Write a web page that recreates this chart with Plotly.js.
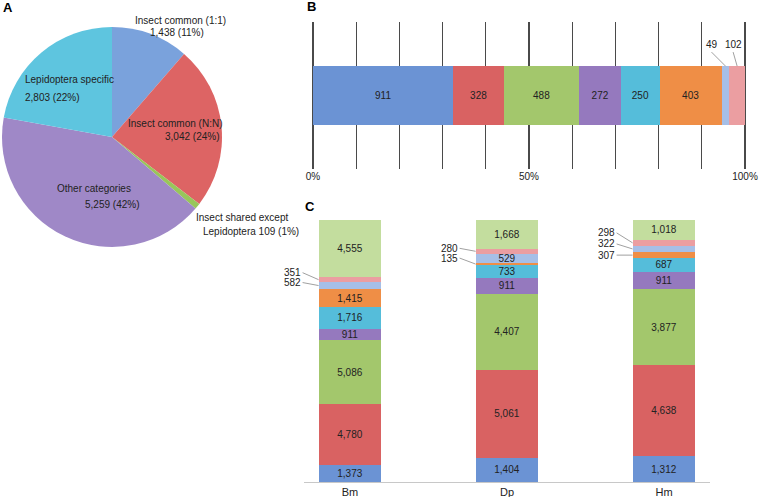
<!DOCTYPE html>
<html><head><meta charset="utf-8">
<script src="https://cdn.plot.ly/plotly-3.0.1.min.js"></script>
<style>html,body{margin:0;padding:0;background:#fff}#chart{width:760px;height:497px}</style>
</head><body><div id="chart"></div>
<script>
// ---- Data ----
const pieLabels = ['Insect common (1:1)', 'Insect common (N:N)', 'Insect shared except Lepidoptera', 'Other categories', 'Lepidoptera specific'];
const pieValues = [1438, 3042, 109, 5259, 2803];

const barBValues = [911, 328, 488, 272, 250, 403, 49, 102];
const barBTicks = ['0%', '50%', '100%'];

const species = ['Bm', 'Dp', 'Hm'];
const cBlue      = [1373, 1404, 1312];
const cRed       = [4780, 5061, 4638];
const cGreen     = [5086, 4407, 3877];
const cPurple    = [911, 911, 911];
const cCyan      = [1716, 733, 687];
const cOrange    = [1415, 135, 307];
const cLightBlue = [582, 529, 322];
const cPink      = [351, 280, 298];
const cLightGreen= [4555, 1668, 1018];

// ---- Styling ----
const FONT = 'Liberation Sans, Arial, Helvetica, sans-serif';
const segColors = ['#6b93d4', '#d96262', '#a3c76c', '#9579be', '#55bdda', '#ef8e46', '#a6bfe7', '#eb9ea1', '#c3dd9e'];
const pieColors = ['#7aa2dc', '#dd6464', '#98c65a', '#9f88c7', '#5ec5df'];
const px = x => x / 760;
const py = y => 1 - y / 497;
const fmt = v => v.toLocaleString('en-US');

const traces = [];
const annotations = [];

// ---- Panel A: pie ----
traces.push({
  type: 'pie', labels: pieLabels, values: pieValues, sort: false, direction: 'clockwise',
  rotation: 0, textinfo: 'none', hoverinfo: 'none', showlegend: false,
  marker: {colors: pieColors, line: {width: 0}},
  domain: {x: [px(2), px(222)], y: [py(247), py(27)]}
});
const pieTotal = pieValues.reduce((a, b) => a + b, 0);
const pct = v => Math.round(v / pieTotal * 100) + '%';
const valTxt = i => fmt(pieValues[i]) + ' (' + pct(pieValues[i]) + ')';
const pieAnn = [
  [pieLabels[0], 180, 21, 'center'], [valTxt(0), 177, 33, 'center'],
  [pieLabels[1], 175, 124, 'center'], [valTxt(1), 192, 137, 'center'],
  ['Insect shared except', 194, 217, 'left'], ['Lepidoptera ' + valTxt(2), 201, 231, 'left'],
  [pieLabels[3], 94, 189, 'center'], [valTxt(3), 112, 205, 'center'],
  [pieLabels[4], 23, 80, 'left'], [valTxt(4), 23, 98, 'left']
];
pieAnn.forEach(([t, x, y, anc]) => annotations.push({
  text: t, xref: 'paper', yref: 'paper', x: px(x), y: py(y), xanchor: anc, yanchor: 'middle',
  showarrow: false, font: {family: FONT, size: 10, color: '#222'}
}));

// ---- Panel B: horizontal 100% bar ----
const totalB = barBValues.reduce((a, b) => a + b, 0);
barBValues.forEach((v, i) => {
  const inside = v / totalB > 0.05;
  traces.push({
    type: 'bar', orientation: 'h', x: [v], y: [0], width: 0.4, xaxis: 'x', yaxis: 'y',
    marker: {color: segColors[i], line: {width: 0}},
    text: [inside ? fmt(v) : ''], textposition: inside ? 'inside' : 'none',
    insidetextanchor: 'middle', textangle: 0,
    textfont: {family: FONT, size: 10, color: '#222'},
    hoverinfo: 'none', showlegend: false
  });
});
let cum = 0;
const bOffsets = {6: [-14, -14], 7: [-4, -14]};
barBValues.forEach((v, i) => {
  const mid = (cum + v / 2) / totalB * 100;
  cum += v;
  if (v / totalB <= 0.05) {
    const [ax, ay] = bOffsets[i];
    annotations.push({
      text: fmt(v), x: mid, y: 0.2, xref: 'x', yref: 'y', ax: ax, ay: ay,
      showarrow: true, arrowhead: 0, arrowwidth: 0.7, arrowcolor: '#777', standoff: 0,
      yanchor: 'bottom', font: {family: FONT, size: 10, color: '#222'}
    });
  }
});

// ---- Panel C: stacked 100% columns ----
const cSeries = [cBlue, cRed, cGreen, cPurple, cCyan, cOrange, cLightBlue, cPink, cLightGreen];
const cTotals = species.map((s, j) => cSeries.reduce((a, arr) => a + arr[j], 0));
const xIdx = species.map((s, j) => j);
cSeries.forEach((arr, i) => {
  traces.push({
    type: 'bar', x: xIdx, y: arr, width: 0.4, xaxis: 'x2', yaxis: 'y2',
    marker: {color: segColors[i], line: {width: 0}},
    text: arr.map((v, j) => v / cTotals[j] > 0.03 ? fmt(v) : ''),
    textposition: 'inside', insidetextanchor: 'middle', textangle: 0,
    textfont: {family: FONT, size: 10, color: '#222'},
    hoverinfo: 'none', showlegend: false
  });
});
const cOffsets = [[-7, -3], [-3, -6], [-10, -5, 0]];
species.forEach((s, j) => {
  let c = 0;
  const small = [];
  cSeries.forEach((arr, i) => {
    const mid = (c + arr[j] / 2) / cTotals[j] * 100;
    c += arr[j];
    if (arr[j] / cTotals[j] <= 0.03) small.push([arr[j], mid]);
  });
  small.reverse();
  small.forEach(([v, mid], k) => {
    annotations.push({
      text: fmt(v), x: j - 0.2, y: mid, xref: 'x2', yref: 'y2', ax: -16, ay: cOffsets[j][k],
      xanchor: 'right', showarrow: true, arrowhead: 0, arrowwidth: 0.7, arrowcolor: '#777', standoff: 0,
      font: {family: FONT, size: 10, color: '#222'}
    });
  });
});

// Panel letters
[['A', 8, 8], ['B', 311, 7], ['C', 310, 207]].forEach(([t, x, y]) => annotations.push({
  text: '<b>' + t + '</b>', xref: 'paper', yref: 'paper', x: px(x), y: py(y),
  xanchor: 'center', yanchor: 'middle', showarrow: false,
  font: {family: FONT, size: 13, color: '#000'}
}));

const layout = {
  width: 760, height: 497, margin: {l: 0, r: 0, t: 0, b: 0},
  paper_bgcolor: '#fff', plot_bgcolor: 'rgba(0,0,0,0)',
  barmode: 'stack', barnorm: 'percent', showlegend: false,
  font: {family: FONT, size: 10, color: '#222'},
  uniformtext: {mode: 'show', minsize: 10},
  xaxis: {
    domain: [px(310.84), px(747.16)], range: [-0.5, 100.5], anchor: 'y',
    tickvals: [0, 10, 20, 30, 40, 50, 60, 70, 80, 90, 100],
    ticktext: [barBTicks[0], '', '', '', '', barBTicks[1], '', '', '', '', barBTicks[2]],
    showgrid: true, gridcolor: '#4a4a4a', gridwidth: 1.2, zeroline: false, showline: false,
    ticks: '', tickfont: {family: FONT, size: 10, color: '#222'}, fixedrange: true
  },
  yaxis: {
    domain: [py(169), py(22)], range: [-0.5, 0.5], anchor: 'x',
    showgrid: false, zeroline: false, showticklabels: false, ticks: '', showline: false
  },
  xaxis2: {
    domain: [px(304), px(710)], range: [-0.293, 2.293], anchor: 'y2',
    tickvals: xIdx, ticktext: species, showgrid: false, zeroline: false,
    showline: true, linecolor: '#c8c8c8', linewidth: 1, ticks: '',
    tickfont: {family: FONT, size: 11, color: '#222'}
  },
  yaxis2: {
    domain: [py(482), py(220)], range: [0, 100], anchor: 'x2',
    showgrid: false, zeroline: false, showticklabels: false, ticks: '', showline: false
  },
  annotations: annotations
};

Plotly.newPlot('chart', traces, layout, {displayModeBar: false, staticPlot: true});
</script>
</body></html>
